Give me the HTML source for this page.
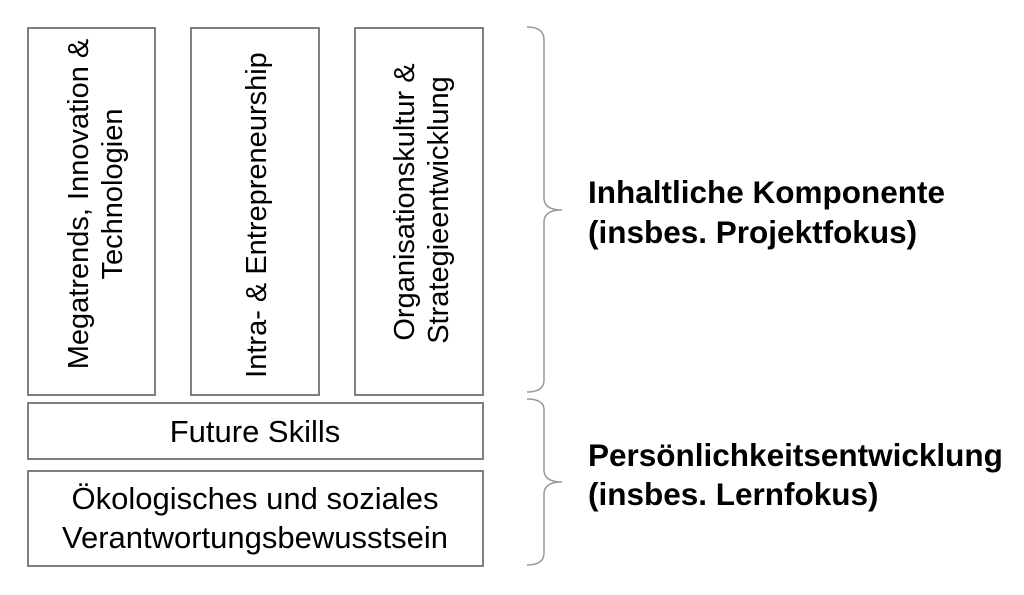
<!DOCTYPE html>
<html><head><meta charset="utf-8"><style>
html,body{margin:0;padding:0;background:#fff;}
svg{display:block;}
text{font-family:"Liberation Sans",Arial,sans-serif;fill:#000;}
</style></head><body>
<svg width="1024" height="595" viewBox="0 0 1024 595" xmlns="http://www.w3.org/2000/svg">
<g fill="none" stroke="#7f7f7f" stroke-width="2">
<rect x="28" y="28" width="127" height="367"/>
<rect x="191" y="28" width="128" height="367"/>
<rect x="355" y="28" width="128" height="367"/>
<rect x="28" y="403" width="455" height="56"/>
<rect x="28" y="471" width="455" height="95"/>
</g>
<g fill="none" stroke="#999" stroke-width="1.5">
<path d="M527,27 Q544,27 544,40 L544,198 Q544,210 562,210 Q544,210 544,222 L544,380 Q544,392 527,392"/>
<path d="M527,399 Q544,399 544,410 L544,470 Q544,482 562,482 Q544,482 544,494 L544,553 Q544,565 527,565"/>
</g>
<g font-size="29" text-anchor="middle">
<text transform="translate(88,204) rotate(-90)">Megatrends, Innovation &amp;</text>
<text transform="translate(122,194) rotate(-90)">Technologien</text>
<text transform="translate(266,215) rotate(-90)">Intra- &amp; Entrepreneurship</text>
<text transform="translate(414,202) rotate(-90)">Organisationskultur &amp;</text>
<text transform="translate(448,210) rotate(-90)">Strategieentwicklung</text>
</g>
<g font-size="31" text-anchor="middle">
<text x="255" y="442">Future Skills</text>
<text x="255" y="509">Ökologisches und soziales</text>
<text x="255" y="548">Verantwortungsbewusstsein</text>
</g>
<g font-size="31.5" font-weight="bold">
<text x="588" y="203">Inhaltliche Komponente</text>
<text x="588" y="243">(insbes. Projektfokus)</text>
<text x="588" y="466">Persönlichkeitsentwicklung</text>
<text x="588" y="505">(insbes. Lernfokus)</text>
</g>
</svg>
</body></html>
